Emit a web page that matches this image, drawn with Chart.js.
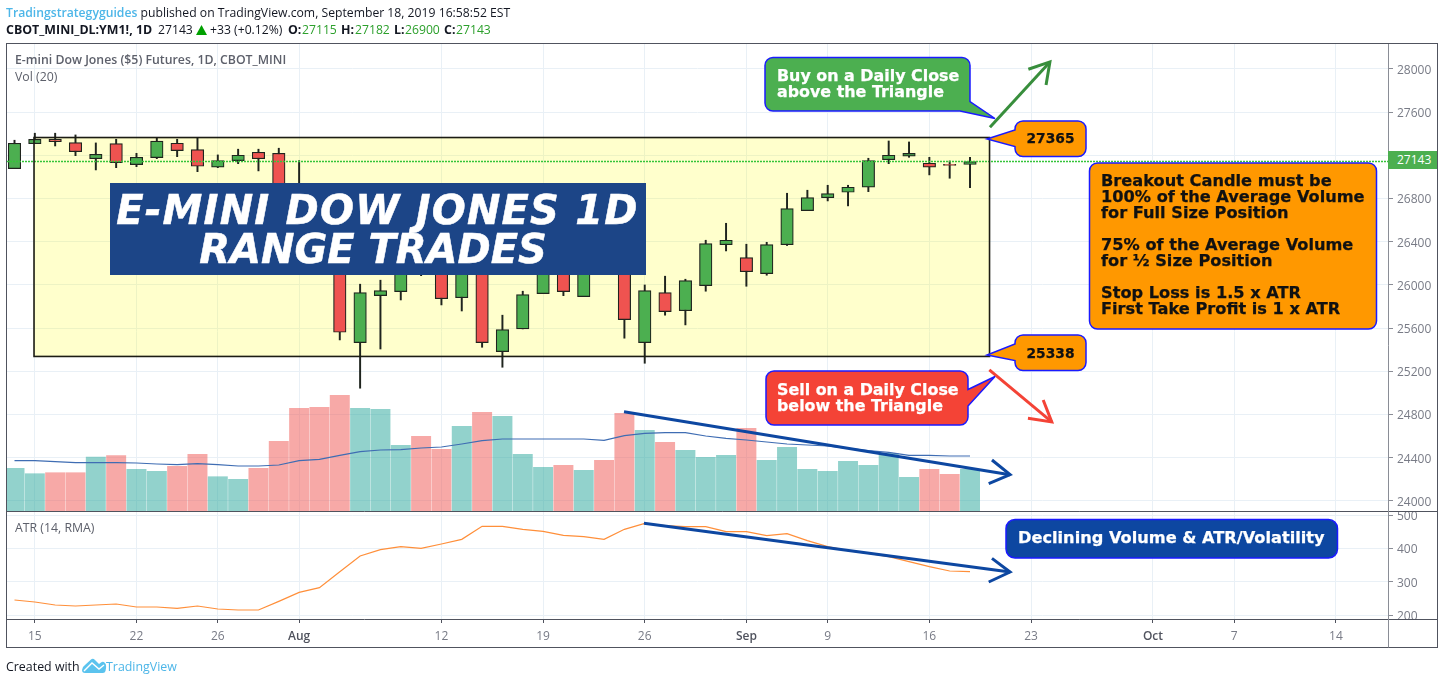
<!DOCTYPE html>
<html>
<head>
<meta charset="utf-8">
<title>E-mini Dow Jones 1D Range Trades</title>
<script src="https://cdn.jsdelivr.net/npm/chart.js@4/dist/chart.umd.min.js"></script>
<style>
html,body{margin:0;padding:0;background:#fff;width:1444px;height:684px;overflow:hidden}
#wrap{position:relative;width:1444px;height:684px;font-family:"Open Sans",sans-serif}
canvas{position:absolute;left:0;top:0}
svg{position:absolute;left:0;top:0}
.t{position:absolute;white-space:nowrap;line-height:16px;font-size:12.2px;color:#131722}
.b{font-weight:700;font-size:12.4px}
.g{color:#2ca02c}
.lab{color:#5d606b;font-weight:600;font-size:12.3px}
#last{position:absolute;left:1388px;top:151px;width:49px;height:18px;background:#4caf50;color:#fff;font-size:12px;line-height:18px;padding-left:9px;box-sizing:border-box}
.c{font-family:"DejaVu Sans",sans-serif;font-weight:700;font-size:16.2px;stroke-width:.25}
.n{font-size:13.8px}
.ban{font-family:"DejaVu Sans",sans-serif;font-weight:700;font-style:italic;font-size:40px;fill:#fff;stroke:#fff;stroke-width:.5;text-anchor:middle}
</style>
</head>
<body>
<div id="wrap">
<canvas id="c" width="1444" height="684"></canvas>
<svg width="1444" height="684" viewBox="0 0 1444 684">
  <rect x="110" y="183" width="536" height="92" fill="#1c4587"/>
  <text class="ban" x="377.5" y="224" style="letter-spacing:1.2px">E-MINI DOW JONES 1D</text>
  <text class="ban" x="373" y="263">RANGE TRADES</text>

  <path d="M773 57.5H962a8 8 0 0 1 8 8V101.5L995 118.5L960 111H773a8 8 0 0 1-8-8V65.5a8 8 0 0 1 8-8Z" fill="#4caf50" stroke="#1a1aff" stroke-width="1.5"/>
  <text class="c" x="777" y="81" fill="#fff" stroke="#fff" style="font-size:15.9px">Buy on a Daily Close</text>
  <text class="c" x="777" y="97" fill="#fff" stroke="#fff" style="font-size:15.9px">above the Triangle</text>

  <path d="M1023 121H1078a8 8 0 0 1 8 8V148.5a8 8 0 0 1-8 8H1023a8 8 0 0 1-8-8V146.5L987 139L1015 130V129a8 8 0 0 1 8-8Z" fill="#ff9800" stroke="#1a1aff" stroke-width="1.5"/>
  <text class="c n" x="1026.5" y="143" fill="#111" stroke="#111">27365</text>

  <path d="M1023 335H1078a8 8 0 0 1 8 8V362.5a8 8 0 0 1-8 8H1023a8 8 0 0 1-8-8V360.5L987 355L1015 344V343a8 8 0 0 1 8-8Z" fill="#ff9800" stroke="#1a1aff" stroke-width="1.5"/>
  <text class="c n" x="1026.5" y="358" fill="#111" stroke="#111">25338</text>

  <path d="M774 371H960a8 8 0 0 1 8 8V389.5L995 376.5L968 406V417a8 8 0 0 1-8 8H774a8 8 0 0 1-8-8V379a8 8 0 0 1 8-8Z" fill="#f44336" stroke="#1a1aff" stroke-width="1.5"/>
  <text class="c" x="777" y="395" fill="#fff" stroke="#fff" style="font-size:15.9px">Sell on a Daily Close</text>
  <text class="c" x="777" y="411" fill="#fff" stroke="#fff" style="font-size:15.9px">below the Triangle</text>

  <rect x="1089.5" y="163" width="287" height="166" rx="8" fill="#ff9800" stroke="#1a1aff" stroke-width="1.5"/>
  <g fill="#111" stroke="#111">
  <text class="c" x="1101" y="186">Breakout Candle must be</text>
  <text class="c" x="1101" y="202">100% of the Average Volume</text>
  <text class="c" x="1101" y="218">for Full Size Position</text>
  <text class="c" x="1101" y="250">75% of the Average Volume</text>
  <text class="c" x="1101" y="266">for ½ Size Position</text>
  <text class="c" x="1101" y="298">Stop Loss is 1.5 x ATR</text>
  <text class="c" x="1101" y="314">First Take Profit is 1 x ATR</text>
  </g>

  <rect x="1006" y="519.5" width="331.5" height="38.5" rx="9" fill="#0d47a1" stroke="#1a1aff" stroke-width="1.5"/>
  <text class="c" x="1018" y="543" fill="#fff" stroke="#fff">Declining Volume &amp; ATR/Volatility</text>

  <path d="M82 670Q82 667 85 665L91 659.5Q93 658 95 660L99 664L101 662.5Q103 661 105 663Q107 665 105.5 671Q105 673 103 673H85Q82 673 82 670Z" fill="#5bc3ee"/>
  <polyline points="84,671 92,663 99,669 104,665" fill="none" stroke="#fff" stroke-width="1.4"/>
  <polygon points="196,35 201.5,25 207,35" fill="#00a000"/>
</svg>

<div class="t" style="left:6px;top:5px"><span style="color:#4db6e8;font-weight:600">Tradingstrategyguides</span> published on TradingView.com, September 18, 2019 16:58:52 EST</div>
<div class="t b" style="left:6px;top:22px">CBOT_MINI_DL:YM1!, 1D</div>
<div class="t" style="left:158px;top:22px">27143</div>
<div class="t" style="left:210px;top:22px">+33 (+0.12%)</div>
<div class="t b" style="left:288px;top:22px">O:</div><div class="t g" style="left:302px;top:22px">27115</div>
<div class="t b" style="left:341px;top:22px">H:</div><div class="t g" style="left:355px;top:22px">27182</div>
<div class="t b" style="left:394px;top:22px">L:</div><div class="t g" style="left:405px;top:22px">26900</div>
<div class="t b" style="left:444px;top:22px">C:</div><div class="t g" style="left:456px;top:22px">27143</div>
<div class="t lab" style="left:15px;top:52px">E-mini Dow Jones ($5) Futures, 1D, CBOT_MINI</div>
<div class="t lab" style="left:15px;top:69px;font-weight:400">Vol (20)</div>
<div class="t lab" style="left:15px;top:520px;font-weight:400">ATR (14, RMA)</div>
<div id="last">27143</div>
<div class="t" style="left:6px;top:659px;font-size:12.4px">Created with</div>
<div class="t" style="left:106px;top:659px;color:#4db6e8;font-size:12.4px">TradingView</div>
</div>

<script>
// Candles: one entry per daily session, from 12 Jul 2019 (index 0) to 18 Sep 2019 (index 47).
const opens  = [27077,27308,27349,27318,27169,27308,27114,27179,27312,27253,27090,27151,27229,27219,26700,26700,26500,25466,25901,25938,26400,26400,25882,26350,25383,25593,25920,26200,25892,26500,26300,25466,25929,25762,25994,26373,26253,26105,26373,26688,26808,26858,26905,27160,27192,27127,27111,27115];
const highs  = [27340,27405,27405,27389,27315,27349,27219,27361,27349,27364,27204,27257,27257,27266,27151,26850,26600,26007,26044,26300,26500,26450,26400,26450,25720,25942,26400,26350,26300,26600,26400,26000,26081,26053,26414,26571,26377,26395,26849,26877,26923,26923,27173,27333,27324,27182,27148,27182];
const lows   = [27077,27308,27287,27197,27065,27086,27095,27169,27188,27049,27086,27123,27056,26620,26300,26200,25491,25044,25407,25861,26086,25815,25759,25423,25238,25593,25920,25901,25892,26150,25507,25275,25720,25630,25942,26315,25988,26090,26365,26688,26778,26732,26864,27123,27182,27019,26988,26900];
const closes = [27312,27349,27327,27234,27210,27132,27182,27331,27244,27099,27151,27201,27169,26700,26420,26300,25562,25929,25947,26180,26150,25873,26300,25466,25586,25910,26300,25938,26200,26250,25679,25947,25753,26040,26382,26414,26123,26373,26707,26808,26845,26905,27151,27201,27219,27090,27107,27143];
// Volume bars and their 20-session average (read in relative units).
const volumes = [427,373,383,383,540,553,417,397,447,567,343,317,427,697,1027,1037,1157,1027,1017,657,747,617,847,987,947,567,437,457,407,507,977,807,687,607,537,557,827,507,637,417,397,497,457,577,337,417,367,417];
const volumeMA = [503,503,493,483,483,483,480,470,463,473,463,450,450,460,503,517,557,593,610,613,630,640,670,703,720,720,720,720,720,707,753,777,783,783,750,727,710,690,670,660,650,627,603,587,557,557,550,550];
const atrValues = [245,239,230,227,230,233,224,224,220,227,218,215,215,241,268,282,330,377,396,405,400,413,427,466,466,457,451,439,435,427,457,475,468,465,465,450,450,438,444,423,405,393,385,375,360,345,332,330];
// Axis ticks.
const timeTickPositions = [1,6,10,14,21,26,31,36,40,45,50,56,60,65];
const timeTickLabels = ['15','22','26','Aug','12','19','26','Sep','9','16','23','Oct','7','14'];
const priceTicks = [24000,24400,24800,25200,25600,26000,26400,26800,27200,27600,28000];
const atrTicks = [200,300,400,500];
// Last price and drawn range.
const lastPrice = [27143];
const rangeTop = [27365];
const rangeBottom = [25338];
const rangeSessions = [0.96,47.96];
// Drawn trend lines and arrows (session index, value on the pane's scale).
const volTrendX = [29.98,48.97];  const volTrendY = [993,363];
const volHeadX = [48.08,48.97,47.92]; const volHeadY = [510,363,273];
const atrTrendX = [30.96,48.97];  const atrTrendY = [475,329];
const atrHeadX = [48.08,48.97,47.92]; const atrHeadY = [370,329,299];
const buyArrowX = [47.98,50.93];  const buyArrowY = [27460,28065];
const buyHeadX = [49.87,50.93,50.74]; const buyHeadY = [27997,28065,27852];
const sellArrowX = [47.95,51.02]; const sellArrowY = [25213,24732];
const sellHeadX = [49.85,51.02,50.6]; const sellHeadY = [24766,24732,24935];

const UP='#4caf50', DOWN='#ef5350', EDGE='#1f241e';
const isUp = opens.map((o,i)=>closes[i]>=o);
const zip = (xs,ys)=>xs.map((x,i)=>({x,y:ys[i]}));
const arrow = (xs,ys,color,width,yAxisID)=>({type:'line',data:zip(xs,ys),borderColor:color,borderWidth:width,pointRadius:0,tension:0,yAxisID,order:1,borderCapStyle:'butt',borderJoinStyle:'miter'});
const fixTicks = vals => s => { s.ticks = vals.map(value=>({value})); };

const frame = {
  id:'frame',
  beforeDraw(ch){
    // tick labels sit a little lower than the canvas "middle" baseline gives
    ['yPrice','yAtr'].forEach(k=>{
      ch.scales[k].getLabelItems(ch.chartArea).forEach(it=>{ it.options.translation[1]+=1.5; });
    });
  },
  beforeDatasetsDraw(ch){
    const {ctx} = ch, x = ch.scales.x, y = ch.scales.yPrice;
    const l = x.getPixelForValue(rangeSessions[0]), r = x.getPixelForValue(rangeSessions[1]);
    const t = y.getPixelForValue(rangeTop[0]), b = y.getPixelForValue(rangeBottom[0]);
    ctx.save();
    ctx.fillStyle='rgba(255,255,0,0.2)';
    ctx.fillRect(l,t,r-l,b-t);
    ctx.restore();
  },
  afterDatasetsDraw(ch){
    const {ctx} = ch, x = ch.scales.x, y = ch.scales.yPrice;
    const l = x.getPixelForValue(rangeSessions[0]), r = x.getPixelForValue(rangeSessions[1]);
    const t = y.getPixelForValue(rangeTop[0]), b = y.getPixelForValue(rangeBottom[0]);
    ctx.save();
    ctx.strokeStyle='#1c1c14'; ctx.lineWidth=1.6;
    ctx.strokeRect(l,t,r-l,b-t);
    ctx.restore();
  },
  afterDraw(ch){
    const {ctx,chartArea:a} = ch, atr = ch.scales.yAtr, R = ch.width-6.5;
    const B = a.bottom+28.5;
    ctx.save();
    ctx.strokeStyle='#50535e'; ctx.lineWidth=1;
    ctx.strokeRect(6.5,a.top-.5,R-6.5,B-a.top+.5);
    ctx.beginPath();
    ctx.moveTo(7,Math.round(atr.top)+.5); ctx.lineTo(R,Math.round(atr.top)+.5);
    ctx.moveTo(7,Math.round(a.bottom)+.5); ctx.lineTo(R,Math.round(a.bottom)+.5);
    ctx.stroke();
    ctx.strokeStyle='#8a8d96';
    ctx.beginPath(); ctx.moveTo(a.right+.5,a.top); ctx.lineTo(a.right+.5,B); ctx.stroke();
    ctx.restore();
  }
};

const sessions = opens.map((_,i)=>i);
const GRID='#e9f0f6', TICKTXT='#787b86';
new Chart(document.getElementById('c'),{
  type:'bar',
  plugins:[frame],
  data:{datasets:[
    {label:'Volume',data:zip(sessions,volumes),yAxisID:'yVol',order:10,barThickness:19.3,grouped:false,
     backgroundColor:isUp.map(u=>u?'rgba(38,166,154,.5)':'rgba(239,83,80,.5)'),borderWidth:0},
    {type:'line',label:'Volume MA',data:zip(sessions,volumeMA),yAxisID:'yVol',order:9,borderColor:'#3f6db3',borderWidth:1.2,pointRadius:0,tension:0},
    {label:'Wick',data:sessions.map(i=>({x:i,y:[lows[i],highs[i]]})),yAxisID:'yPrice',order:8,barThickness:1.3,grouped:false,backgroundColor:'#1f241e',borderWidth:0},
    {label:'Body',data:sessions.map(i=>({x:i,y:[opens[i],closes[i]]})),yAxisID:'yPrice',order:7,barThickness:12.5,grouped:false,minBarLength:1,
     backgroundColor:isUp.map(u=>u?UP:DOWN),borderColor:EDGE,borderWidth:1.2,borderSkipped:false},
    {type:'line',label:'Last',data:[{x:-0.37,y:lastPrice[0]},{x:67.56,y:lastPrice[0]}],yAxisID:'yPrice',order:6,borderColor:'#35c43a',borderWidth:1.3,borderDash:[2,1],pointRadius:0},
    {type:'line',label:'ATR',data:zip(sessions,atrValues),yAxisID:'yAtr',order:5,borderColor:'#ff8f3a',borderWidth:1.2,pointRadius:0,tension:0},
    arrow(volTrendX,volTrendY,'#0d47a1',3,'yVol'),
    arrow(volHeadX,volHeadY,'#0d47a1',3,'yVol'),
    arrow(atrTrendX,atrTrendY,'#0d47a1',3,'yAtr'),
    arrow(atrHeadX,atrHeadY,'#0d47a1',3,'yAtr'),
    arrow(buyArrowX,buyArrowY,'#388e3c',3,'yPrice'),
    arrow(buyHeadX,buyHeadY,'#388e3c',3,'yPrice'),
    arrow(sellArrowX,sellArrowY,'#f44336',3,'yPrice'),
    arrow(sellHeadX,sellHeadY,'#f44336',3,'yPrice')
  ]},
  options:{
    responsive:false,animation:false,
    layout:{padding:{left:7,top:44,right:7,bottom:37}},
    plugins:{legend:{display:false},tooltip:{enabled:false}},
    scales:{
      x:{type:'linear',position:'bottom',min:-0.369,max:67.56,offset:false,
        grid:{offset:false,color:GRID,tickColor:'#50535e',tickLength:4},
        border:{display:false},
        afterBuildTicks:fixTicks(timeTickPositions),
        afterFit(s){s.height=28;},
        ticks:{autoSkip:false,maxRotation:0,padding:6,
          callback:(v)=>timeTickLabels[timeTickPositions.indexOf(v)],
          font:(c)=>{const l=c.tick&&timeTickLabels[timeTickPositions.indexOf(c.tick.value)];return {family:'"Open Sans",sans-serif',size:12,weight:(l&&/[A-Z]/.test(l))?'600':'400'};},
          color:(c)=>{const l=c.tick&&timeTickLabels[timeTickPositions.indexOf(c.tick.value)];return (l&&/[A-Z]/.test(l))?'#50535e':TICKTXT;}}
      },
      yPrice:{type:'linear',position:'right',stack:'panes',stackWeight:467,min:23907,max:28231,
        grid:{color:GRID,tickColor:'#8a8d96',tickLength:5},border:{display:false},
        afterBuildTicks:fixTicks(priceTicks),
        afterFit(s){s.width=49;},
        ticks:{autoSkip:false,padding:4,color:TICKTXT,font:{family:'"Open Sans",sans-serif',size:12},callback:v=>String(v)}
      },
      yAtr:{type:'linear',position:'right',stack:'panes',stackWeight:108,min:188,max:512,
        grid:{color:GRID,tickColor:'#8a8d96',tickLength:5},border:{display:false},
        afterBuildTicks:fixTicks(atrTicks),
        afterFit(s){s.width=49;},
        ticks:{autoSkip:false,padding:4,color:TICKTXT,font:{family:'"Open Sans",sans-serif',size:12},callback:v=>String(v)}
      },
      yVol:{type:'linear',position:'right',display:false,min:-1080,max:4670}
    }
  }
});
</script>
</body>
</html>
